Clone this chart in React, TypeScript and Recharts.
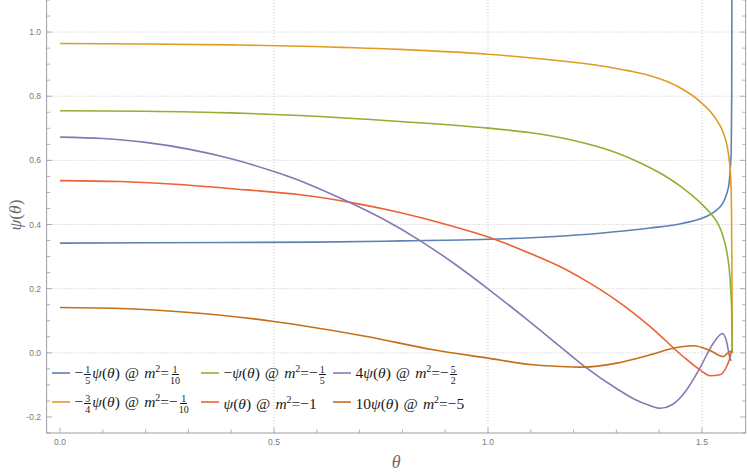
import React from 'react';
import { LineChart, Line, XAxis, YAxis, CartesianGrid, Legend } from 'recharts';

const W = 747;
const H = 472;

const seriesNames = [
  '−1/5 ψ(θ) @ m²=1/10',
  '−3/4 ψ(θ) @ m²=−1/10',
  '−ψ(θ) @ m²=−1/5',
  'ψ(θ) @ m²=−1',
  '4ψ(θ) @ m²=−5/2',
  '10ψ(θ) @ m²=−5',
];
const seriesColors = ['#5E81B5', '#E19C24', '#8FB032', '#EB6235', '#8778B3', '#C56E1A'];

// legend label parts
const coefSign = ['−', '−', '−', '', '', ''];
const coefPart: (string | [string, string])[] = [['1', '5'], ['3', '4'], '', '', '4', '10'];
const m2Sign = ['', '−', '−', '−', '−', '−'];
const m2Part: (string | [string, string])[] = [['1', '10'], ['1', '10'], ['1', '5'], '1', ['5', '2'], '5'];

// series 1 (blue)
const thetaBlue = [0, 0.2, 0.4, 0.6, 0.8, 1.0, 1.145, 1.262, 1.379, 1.456, 1.495, 1.515, 1.534, 1.548, 1.5576, 1.5635, 1.5665, 1.5685, 1.5695, 1.5702];
const psiBlue = [0.342, 0.343, 0.344, 0.345, 0.349, 0.354, 0.362, 0.373, 0.389, 0.404, 0.417, 0.428, 0.445, 0.465, 0.495, 0.53, 0.58, 0.64, 0.8, 1.3];

// series 2 (orange)
const thetaOrange = [0, 0.2, 0.4, 0.561, 0.794, 1.0, 1.145, 1.262, 1.33, 1.379, 1.42, 1.456, 1.495, 1.534, 1.55, 1.5615, 1.567, 1.569, 1.57, 1.5708];
const psiOrange = [0.9645, 0.963, 0.96, 0.956, 0.946, 0.931, 0.9136, 0.895, 0.879, 0.864, 0.845, 0.821, 0.784, 0.7265, 0.685, 0.623, 0.55, 0.45, 0.25, 0.0];

// series 3 (green)
const thetaGreen = [0, 0.2, 0.4, 0.561, 0.794, 1.0, 1.1, 1.2, 1.3, 1.35, 1.4, 1.45, 1.5, 1.52, 1.535, 1.545, 1.553, 1.56, 1.5645, 1.5675, 1.5693, 1.5708];
const psiGreen = [0.7546, 0.753, 0.748, 0.74, 0.7214, 0.7006, 0.686, 0.662, 0.624, 0.596, 0.562, 0.519, 0.463, 0.435, 0.408, 0.38, 0.345, 0.3, 0.25, 0.19, 0.14, 0.0];

// series 4 (red)
const thetaRed = [0, 0.14, 0.279, 0.4346, 0.561, 0.678, 0.794, 0.911, 1.02, 1.106, 1.168, 1.223, 1.301, 1.379, 1.456, 1.495, 1.5187, 1.542, 1.5576, 1.5665, 1.5695];
const psiRed = [0.537, 0.534, 0.525, 0.508, 0.4927, 0.469, 0.4375, 0.397, 0.352, 0.3056, 0.269, 0.229, 0.163, 0.082, -0.0115, -0.053, -0.0717, -0.0686, -0.0426, -0.01, 0.01];

// series 5 (purple)
const thetaPurple = [0, 0.1, 0.2, 0.3, 0.4, 0.5, 0.575, 0.662, 0.755, 0.841, 0.919, 1.0, 1.09, 1.168, 1.223, 1.301, 1.34, 1.375, 1.402, 1.43, 1.456, 1.495, 1.5265, 1.548, 1.5576, 1.5654, 1.569];
const psiPurple = [0.6725, 0.668, 0.656, 0.635, 0.605, 0.565, 0.529, 0.478, 0.417, 0.35, 0.28, 0.1996, 0.105, 0.02, -0.04, -0.112, -0.143, -0.163, -0.173, -0.162, -0.13, -0.048, 0.03, 0.06, 0.035, -0.017, -0.025];

// series 6 (dark orange)
const thetaDark = [0, 0.123, 0.279, 0.5, 0.575, 0.7165, 0.872, 1.0, 1.106, 1.168, 1.223, 1.301, 1.379, 1.441, 1.48, 1.5187, 1.55, 1.5654, 1.5695];
const psiDark = [0.1413, 0.139, 0.128, 0.0977, 0.083, 0.051, 0.0094, -0.0166, -0.0374, -0.0426, -0.0447, -0.0322, -0.0062, 0.0166, 0.0218, 0.007, -0.0115, 0.004, 0.0];

// axes
const xDomain = [-0.0314, 1.6022];
const yDomain = [-0.25, 1.1];
const xTicks = [0, 0.1, 0.2, 0.3, 0.4, 0.5, 0.6, 0.7, 0.8, 0.9, 1.0, 1.1, 1.2, 1.3, 1.4, 1.5];
const xLabelled = [0, 0.5, 1.0, 1.5];
const yTicks = [-0.25, -0.2, -0.15, -0.1, -0.05, 0, 0.05, 0.1, 0.15, 0.2, 0.25, 0.3, 0.35, 0.4, 0.45, 0.5, 0.55, 0.6, 0.65, 0.7, 0.75, 0.8, 0.85, 0.9, 0.95, 1.0, 1.05, 1.1];
const yLabelled = [-0.2, 0, 0.2, 0.4, 0.6, 0.8, 1.0];
const xGrid = [0.5, 1.0, 1.5];
const yGrid = [0, 0.2, 0.4, 0.6, 0.8, 1.0];

const seriesTheta = [thetaBlue, thetaOrange, thetaGreen, thetaRed, thetaPurple, thetaDark];
const seriesPsi = [psiBlue, psiOrange, psiGreen, psiRed, psiPurple, psiDark];

const toRows = (ts: number[], vs: number[]) => ts.map((t, i) => ({ t, v: vs[i] }));

const AXIS = '#9d9d9d';
const TICKTXT = '#7a7a7a';
const SANS = '"Liberation Sans", Arial, sans-serif';
const SERIF = '"Liberation Serif", "Times New Roman", serif';

const isIn = (v: number, list: number[]) => list.some((m) => Math.abs(m - v) < 1e-9);
const fmt = (v: number) => (Math.abs(v) < 1e-9 ? '0.0' : v.toFixed(1));

const XTick = (props: any) => {
  const { x, y, payload } = props;
  const major = isIn(payload.value, xLabelled);
  return (
    <g>
      <line x1={x} x2={x} y1={y} y2={y - (major ? 5.5 : 3.5)} stroke={AXIS} strokeWidth={0.8} />
      {major && (
        <text x={x} y={y + 12} textAnchor="middle" fontFamily={SANS} fontSize={8.5} fill={TICKTXT}>
          {fmt(payload.value)}
        </text>
      )}
    </g>
  );
};

const YTickLeft = (props: any) => {
  const { x, y, payload } = props;
  const major = isIn(payload.value, yLabelled);
  return (
    <g>
      <line x1={x} x2={x + (major ? 5.5 : 3.5)} y1={y} y2={y} stroke={AXIS} strokeWidth={0.8} />
      {major && (
        <text x={x - 5.5} y={y + 3} textAnchor="end" fontFamily={SANS} fontSize={8.5} fill={TICKTXT}>
          {fmt(payload.value)}
        </text>
      )}
    </g>
  );
};

const YTickRight = (props: any) => {
  const { x, y, payload } = props;
  const major = isIn(payload.value, yLabelled);
  return <line x1={x - (major ? 5.5 : 3.5)} x2={x} y1={y} y2={y} stroke={AXIS} strokeWidth={0.8} />;
};

const YLabel = (props: any) => {
  const vb = props.viewBox || { x: 0, y: 0, width: 46.6, height: 433 };
  const cx = vb.x + 15;
  const cy = vb.y + vb.height / 2 - 1.5;
  return (
    <text
      x={cx}
      y={cy}
      transform={`rotate(-90 ${cx} ${cy})`}
      textAnchor="middle"
      dominantBaseline="central"
      fontFamily={SERIF}
      fontSize={17.5}
      fill="#6b6b6b"
    >
      <tspan fontStyle="italic">ψ</tspan>(<tspan fontStyle="italic">θ</tspan>)
    </text>
  );
};

const XLabel = (props: any) => {
  const vb = props.viewBox || { x: 46.6, y: 433, width: 699, height: 39 };
  return (
    <text
      x={vb.x + vb.width / 2}
      y={vb.y + 28.7}
      textAnchor="middle"
      dominantBaseline="central"
      fontFamily={SERIF}
      fontSize={18}
      fontStyle="italic"
      fill="#6b6b6b"
    >
      θ
    </text>
  );
};

const Frac = ({ n, d }: { n: string; d: string }) => (
  <span
    style={{
      display: 'inline-flex',
      flexDirection: 'column',
      alignItems: 'center',
      verticalAlign: 'middle',
      fontSize: 10,
      lineHeight: '9px',
      margin: '0 1px',
    }}
  >
    <span style={{ borderBottom: '0.6px solid currentColor', padding: '0 1px 0.5px' }}>{n}</span>
    <span style={{ paddingTop: 0.5 }}>{d}</span>
  </span>
);

const Part = ({ p }: { p: string | [string, string] }) =>
  Array.isArray(p) ? <Frac n={p[0]} d={p[1]} /> : <span>{p}</span>;

const RichLabel = ({ i }: { i: number }) => (
  <span style={{ whiteSpace: 'nowrap' }}>
    {coefSign[i]}
    <Part p={coefPart[i]} />
    <i>ψ</i>(<i>θ</i>)<span style={{ margin: '0 5px' }}>@</span>
    <i>m</i>
    <span style={{ fontSize: 10, position: 'relative', top: -6 }}>2</span>={m2Sign[i]}
    <Part p={m2Part[i]} />
  </span>
);

const renderLegend = () => (
  <div
    style={{
      display: 'grid',
      gridTemplateRows: '29px 29px',
      gridAutoFlow: 'column',
      gridTemplateColumns: '149px 132px 140px',
      fontFamily: SERIF,
      fontSize: 15.5,
      color: '#1a1a1a',
    }}
  >
    {seriesNames.map((n, i) => (
      <div key={n} style={{ display: 'flex', alignItems: 'center', height: 29 }}>
        <svg width={18} height={6} style={{ marginRight: 4.5, position: 'relative', top: -2, flex: 'none' }}>
          <line x1={0} x2={18} y1={3} y2={3} stroke={seriesColors[i]} strokeWidth={1.6} />
        </svg>
        <RichLabel i={i} />
      </div>
    ))}
  </div>
);

export default function App() {
  return (
    <div style={{ position: 'absolute', left: 0, top: 0, width: W, height: H, background: '#fff' }}>
      <LineChart width={W} height={H} margin={{ top: 0, right: 0, bottom: 0, left: 0 }}>
        <CartesianGrid
          horizontalValues={yGrid}
          verticalValues={xGrid}
          stroke="#c6c6c6"
          strokeDasharray="1 2"
          strokeWidth={1}
        />
        <XAxis
          dataKey="t"
          type="number"
          domain={xDomain}
          allowDataOverflow
          ticks={xTicks}
          interval={0}
          tick={<XTick />}
          tickLine={false}
          tickSize={0}
          tickMargin={0}
          height={39}
          stroke={AXIS}
          axisLine={{ stroke: AXIS, strokeWidth: 1 }}
          label={<XLabel />}
        />
        <YAxis
          type="number"
          domain={yDomain}
          allowDataOverflow
          ticks={yTicks}
          interval={0}
          tick={<YTickLeft />}
          tickLine={false}
          tickSize={0}
          tickMargin={0}
          width={46.6}
          axisLine={{ stroke: AXIS, strokeWidth: 1 }}
          label={<YLabel />}
        />
        <YAxis
          yAxisId="r"
          orientation="right"
          type="number"
          domain={yDomain}
          allowDataOverflow
          ticks={yTicks}
          interval={0}
          tick={<YTickRight />}
          tickLine={false}
          tickSize={0}
          tickMargin={0}
          width={1.3}
          axisLine={{ stroke: AXIS, strokeWidth: 1 }}
        />
        <Legend
          layout="horizontal"
          verticalAlign="middle"
          align="center"
          content={renderLegend}
          wrapperStyle={{ left: 52, top: 360, width: 430, height: 58 }}
        />
        {seriesNames.map((n, i) => (
          <Line
            key={n}
            name={n}
            data={toRows(seriesTheta[i], seriesPsi[i])}
            dataKey="v"
            type="monotone"
            stroke={seriesColors[i]}
            strokeWidth={1.6}
            dot={false}
            activeDot={false}
            isAnimationActive={false}
            legendType="line"
          />
        ))}
      </LineChart>
    </div>
  );
}
